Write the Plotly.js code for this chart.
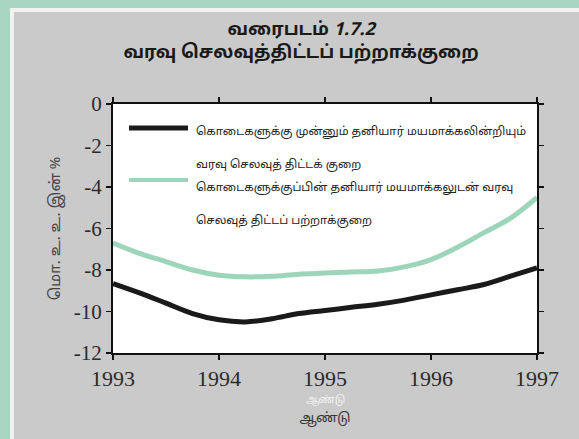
<!DOCTYPE html>
<html>
<head>
<meta charset="utf-8">
<script src="https://cdn.plot.ly/plotly-3.0.1.min.js"></script>
<style>html,body{margin:0;padding:0;background:#cacaca;}#chart{width:579px;height:439px;}</style>
</head>
<body>
<div id="chart"></div>
<script>
const years = [1993, 1993.25, 1993.5, 1993.75, 1994, 1994.25, 1994.5, 1994.75, 1995, 1995.25, 1995.5, 1995.75, 1996, 1996.25, 1996.5, 1996.75, 1997];
const deficitBefore = [-8.65, -9.1, -9.6, -10.1, -10.4, -10.5, -10.35, -10.1, -9.95, -9.8, -9.65, -9.45, -9.2, -8.95, -8.7, -8.3, -7.9];
const deficitAfter = [-6.7, -7.2, -7.6, -8.0, -8.25, -8.33, -8.3, -8.2, -8.15, -8.1, -8.05, -7.85, -7.5, -6.9, -6.2, -5.5, -4.5];
const xTicks = [1993, 1994, 1995, 1996, 1997];
const yTicks = [0, -2, -4, -6, -8, -10, -12];
const nameBefore = ["கொடைகளுக்கு முன்னும் தனியார் மயமாக்கலின்றியும்", "வரவு செலவுத் திட்டக் குறை"];
const nameAfter = ["கொடைகளுக்குப்பின் தனியார் மயமாக்கலுடன் வரவு", "செலவுத் திட்டப் பற்றாக்குறை"];
const titleLines = ["வரைபடம் <i>1.7.2</i>", "வரவு செலவுத்திட்டப் பற்றாக்குறை"];
const yTitle = "மொ. உ. உ. இன் %";
const xTitle = "ஆண்டு";

const tamilFont = "'Noto Sans Tamil', 'Latha', 'Noto Sans', sans-serif";
const serif = "'Liberation Serif', 'DejaVu Serif', serif";

const traces = [
  {x: years, y: deficitAfter, mode: 'lines', name: nameAfter.join(' '),
   line: {color: '#9dd5bb', width: 5, shape: 'spline', smoothing: 1}},
  {x: years, y: deficitBefore, mode: 'lines', name: nameBefore.join(' '),
   line: {color: '#1a1a1a', width: 5, shape: 'spline', smoothing: 1}}
];

const W = 579, H = 439;
const ML = 113, MR = 42, MT = 104, MB = 86;
const plotW = W - ML - MR, plotH = H - MT - MB;
function ax(xpx){return (xpx - ML) / plotW;}
function ay(ypx){return 1 - (ypx - MT) / plotH;}

const layout = {
  width: W, height: H,
  margin: {l: ML, r: MR, t: MT, b: MB},
  paper_bgcolor: '#cacaca',
  plot_bgcolor: '#ffffff',
  showlegend: false,
  title: {text: titleLines.join('<br>'), x: 0.52, xanchor: 'center', y: 1 - 35 / H, yanchor: 'middle',
          font: {family: tamilFont, size: 18, color: '#1a1a1a', weight: 'bold'}},
  xaxis: {range: [1993, 1997], tickvals: xTicks, ticktext: xTicks.map(String),
          showgrid: false, zeroline: false, showline: true, linecolor: '#111', linewidth: 2,
          mirror: 'ticks', ticks: 'outside', ticklen: 5, tickcolor: '#111', tickwidth: 1.5,
          tickfont: {family: serif, size: 22, color: '#2a2a2a'},
          title: {text: xTitle, standoff: 22, font: {family: tamilFont, size: 13, color: '#333'}}},
  yaxis: {range: [-12, 0], tickvals: yTicks, ticktext: yTicks.map(String),
          showgrid: false, zeroline: false, showline: true, linecolor: '#111', linewidth: 2,
          mirror: 'ticks', ticks: 'outside', ticklen: 5, tickcolor: '#111', tickwidth: 1.5,
          tickfont: {family: serif, size: 21, color: '#2a2a2a'},
          title: {text: yTitle, standoff: 10, font: {family: tamilFont, size: 15, color: '#444'}}},
  shapes: [
    {type: 'rect', xref: 'paper', yref: 'paper', x0: ax(0), x1: ax(10), y0: ay(H), y1: ay(0),
     line: {width: 0}, fillcolor: '#a8d6c2', layer: 'below'},
    {type: 'rect', xref: 'paper', yref: 'paper', x0: ax(0), x1: ax(W), y0: ay(8), y1: ay(0),
     line: {width: 0}, fillcolor: '#a8d6c2', layer: 'below'},
    {type: 'rect', xref: 'paper', yref: 'paper', x0: ax(10), x1: ax(14), y0: ay(H), y1: ay(8),
     line: {width: 0}, fillcolor: '#f2f2f2', layer: 'below'},
    {type: 'rect', xref: 'paper', yref: 'paper', x0: ax(10), x1: ax(W), y0: ay(12), y1: ay(8),
     line: {width: 0}, fillcolor: '#f2f2f2', layer: 'below'},
    {type: 'line', xref: 'paper', yref: 'paper', x0: ax(129), x1: ax(188), y0: ay(128), y1: ay(128),
     line: {color: '#1a1a1a', width: 5}},
    {type: 'line', xref: 'paper', yref: 'paper', x0: ax(129), x1: ax(188), y0: ay(180), y1: ay(180),
     line: {color: '#9dd5bb', width: 4}}
  ],
  annotations: []
};

const lab = [[nameBefore[0], 132], [nameBefore[1], 165], [nameAfter[0], 188], [nameAfter[1], 221]];
lab.forEach(function(l){
  layout.annotations.push({xref: 'paper', yref: 'paper', x: ax(194), y: ay(l[1]), xanchor: 'left', yanchor: 'middle',
    text: l[0], showarrow: false, font: {family: tamilFont, size: 11.5, color: '#222'}});
});
layout.annotations.push({xref: 'paper', yref: 'paper', x: ax(325), y: ay(400), xanchor: 'center', yanchor: 'middle',
  text: xTitle, showarrow: false, font: {family: tamilFont, size: 10, color: '#f4f4f4'}});

Plotly.newPlot('chart', traces, layout, {displayModeBar: false, staticPlot: true});
</script>
</body>
</html>
